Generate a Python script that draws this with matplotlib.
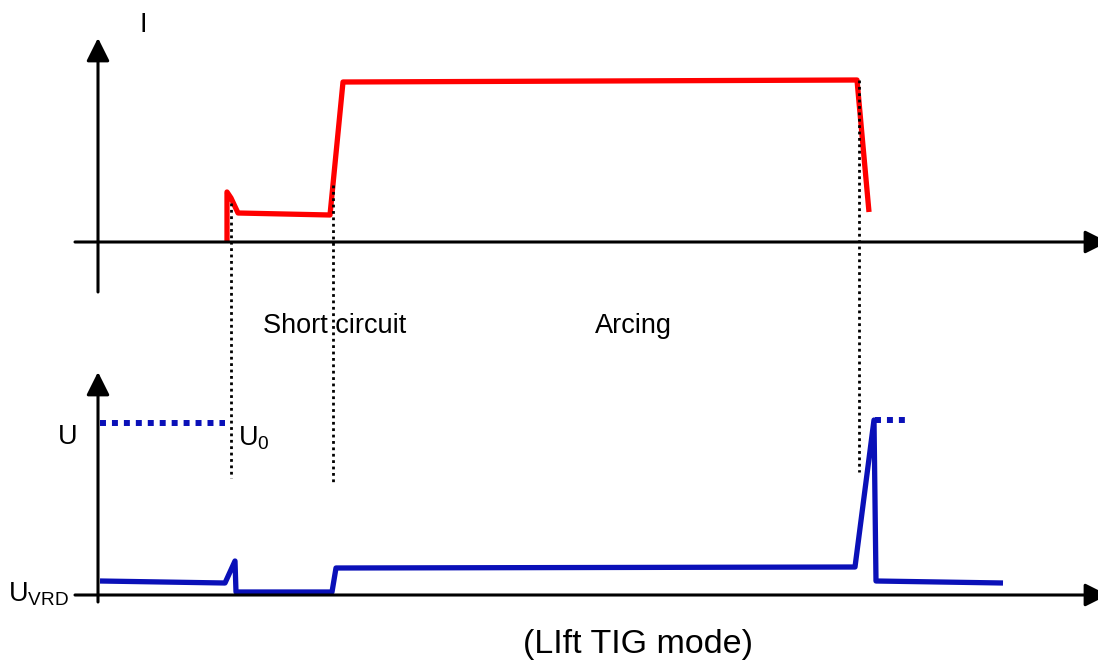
import matplotlib
matplotlib.use("Agg")
import matplotlib.pyplot as plt

# ---- data (time in arbitrary units, amplitudes relative to each baseline) ----
current_t = [227, 227, 231, 238, 330, 343, 857, 869]
current_v = [0, 50, 44, 29, 27, 160, 162, 30]

voltage_t = [100, 225, 235, 236, 332, 336, 855, 874, 876, 1003]
voltage_v = [14, 12, 34, 3, 3, 27, 28, 175, 14, 12]

u0_open_t = [100, 225]
u0_open_v = [172, 172]
u0_end_t = [875, 905]
u0_end_v = [175, 175]

marker_t = [231, 333, 859]
marker_top = [203, 185, 80]      # px from top
marker_bottom = [478, 485, 472]

labels_phase = ["Short circuit", "Arcing"]
labels_phase_x = [335, 633]
title_text = "(LIft TIG mode)"

W, H = 1098, 661
I_BASE = H - 242   # baseline of current plot (from bottom)
U_BASE = H - 595   # baseline of voltage plot

fig = plt.figure(figsize=(W / 100, H / 100), dpi=100)
ax = fig.add_axes([0, 0, 1, 1])
ax.set_xlim(0, W)
ax.set_ylim(0, H)
ax.axis("off")

FONT = "Liberation Sans"
FS = 19.5

# axes arrows
arrow_kw = dict(arrowstyle="-|>,head_length=0.7,head_width=0.35", lw=2.2,
                color="black", mutation_scale=20, shrinkA=0, shrinkB=0)
ax.annotate("", xy=(98, H - 38), xytext=(98, H - 292), arrowprops=arrow_kw,
            annotation_clip=False)
ax.annotate("", xy=(1108, I_BASE), xytext=(75, I_BASE), arrowprops=arrow_kw,
            annotation_clip=False)
ax.annotate("", xy=(98, H - 372), xytext=(98, H - 602), arrowprops=arrow_kw,
            annotation_clip=False)
ax.annotate("", xy=(1108, U_BASE), xytext=(75, U_BASE), arrowprops=arrow_kw,
            annotation_clip=False)

# current
ax.plot(current_t, [I_BASE + v for v in current_v], color="#FF0000", lw=3.8,
        solid_joinstyle="round", solid_capstyle="butt", zorder=2)

# voltage
ax.plot(voltage_t, [U_BASE + v for v in voltage_v], color="#0A10B8", lw=3.8,
        solid_joinstyle="round", solid_capstyle="butt", zorder=2)
ax.plot(u0_open_t, [U_BASE + v for v in u0_open_v], color="#0A10B8", lw=4.3,
        linestyle=(0, (1, 1)), solid_capstyle="butt", zorder=2)
ax.plot(u0_end_t, [U_BASE + v for v in u0_end_v], color="#0A10B8", lw=4.3,
        linestyle=(0, (1, 1)), solid_capstyle="butt", zorder=2)

# dotted markers
for t, a, b in zip(marker_t, marker_top, marker_bottom):
    ax.plot([t, t], [H - a, H - b], color="black", lw=2.0,
            linestyle=(0, (1, 1.3)), solid_capstyle="butt", zorder=3)

# texts
ax.text(143, H - 25, "I", fontsize=FS, family=FONT, ha="center", va="center")
for s, x in zip(labels_phase, labels_phase_x):
    ax.text(x, H - 326, s, fontsize=FS, family=FONT, ha="center", va="center")
ax.text(68, H - 437, "U", fontsize=FS, family=FONT, ha="center", va="center")
ax.text(238, H - 438, r"U$_\mathregular{0}$", fontsize=FS, family=FONT,
        ha="left", va="center")
ax.text(69, H - 594, r"U$_\mathregular{VRD}$", fontsize=FS, family=FONT,
        ha="right", va="center")
ax.text(638, H - 645, title_text, fontsize=24.5, family=FONT, ha="center",
        va="center")

fig.savefig("out.png", dpi=100)
